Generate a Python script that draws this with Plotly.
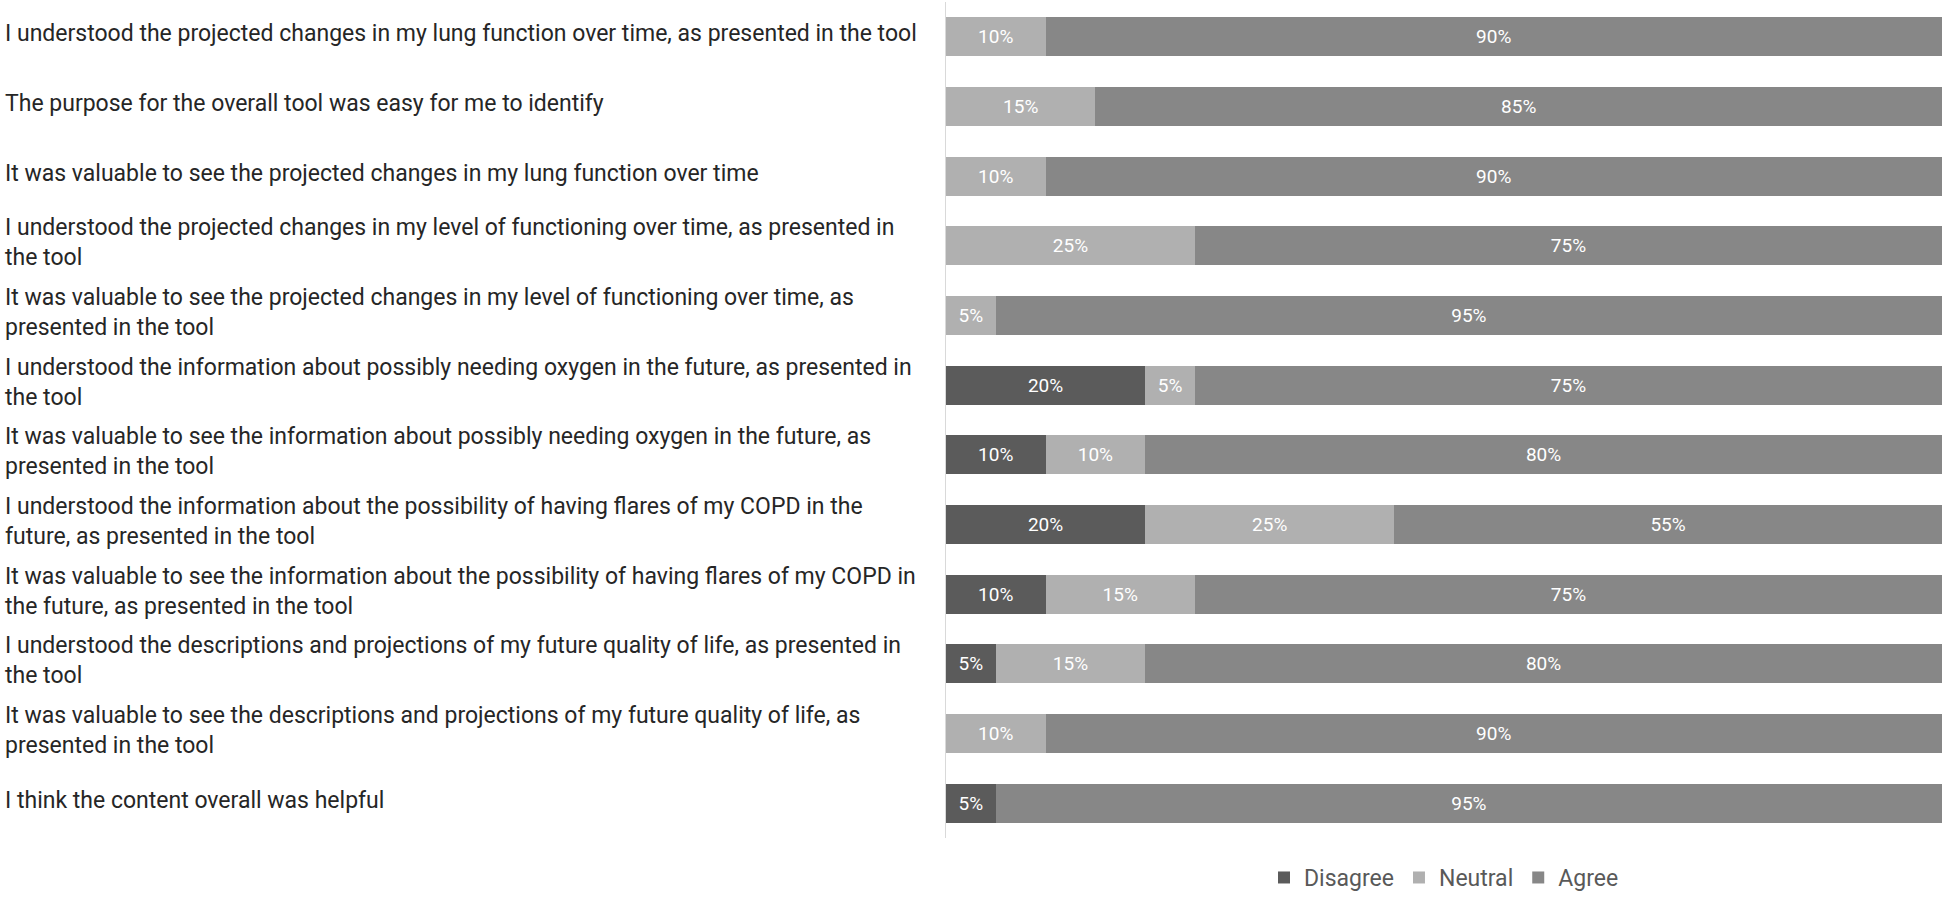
import plotly.graph_objects as go

# Survey statements (top to bottom), <br> where the original label wraps
statements = [
    "I understood the projected changes in my lung function over time, as presented in the tool",
    "The purpose for the overall tool was easy for me to identify",
    "It was valuable to see the projected changes in my lung function over time",
    "I understood the projected changes in my level of functioning over time, as presented in<br>the tool",
    "It was valuable to see the projected changes in my level of functioning over time, as<br>presented in the tool",
    "I understood the information about possibly needing oxygen in the future, as presented in<br>the tool",
    "It was valuable to see the information about possibly needing oxygen in the future, as<br>presented in the tool",
    "I understood the information about the possibility of having flares of my COPD in the<br>future, as presented in the tool",
    "It was valuable to see the information about the possibility of having flares of my COPD in<br>the future, as presented in the tool",
    "I understood the descriptions and projections of my future quality of life, as presented in<br>the tool",
    "It was valuable to see the descriptions and projections of my future quality of life, as<br>presented in the tool",
    "I think the content overall was helpful",
]

disagree = [0, 0, 0, 0, 0, 20, 10, 20, 10, 5, 0, 5]
neutral = [10, 15, 10, 25, 5, 5, 10, 25, 15, 15, 10, 0]
agree = [90, 85, 90, 75, 95, 75, 80, 55, 75, 80, 90, 95]

series = [
    ("Disagree", disagree, "#5b5b5b"),
    ("Neutral", neutral, "#b0b0b0"),
    ("Agree", agree, "#878787"),
]

rows = list(range(len(statements)))

fig = go.Figure()
for name, vals, color in series:
    fig.add_trace(go.Bar(
        y=rows,
        x=vals,
        name=name,
        orientation="h",
        marker=dict(color=color, line=dict(width=0)),
        text=[f"{v}%" if v > 0 else "" for v in vals],
        textposition="inside",
        insidetextanchor="middle",
        textfont=dict(color="white", size=19),
    ))

# left-aligned category labels
left_margin = 946
plot_w = 1942 - left_margin
for i, s in enumerate(statements):
    fig.add_annotation(
        x=(3 - left_margin) / plot_w, xref="paper",
        y=i, yref="y",
        text=s, showarrow=False,
        xanchor="left", yanchor="middle", align="left",
        yshift=3,
        font=dict(size=23, color="#262626"),
    )

fig.update_layout(
    barmode="stack",
    width=1942, height=900,
    margin=dict(l=left_margin, r=0, t=2, b=62),
    bargap=0.44,
    plot_bgcolor="white",
    paper_bgcolor="white",
    font=dict(family="Roboto, Liberation Sans, sans-serif", color="#595959"),
    uniformtext=dict(minsize=19, mode="show"),
    legend=dict(
        orientation="h", x=0.5, xanchor="center", y=-0.073, yanchor="bottom",
        font=dict(size=23, color="#595959"), traceorder="normal",
        itemclick=False,
    ),
    showlegend=True,
)
fig.update_xaxes(range=[0, 100], showgrid=False, showticklabels=False,
                 zeroline=False, showline=False)
fig.update_yaxes(autorange="reversed", showgrid=False, showticklabels=False,
                 zeroline=False, showline=True, linecolor="#d9d9d9",
                 linewidth=1)

# drop the default page margin so the 1942x900 figure fills the window
fig.write_html(
    "out.html",
    config={"displayModeBar": False},
    post_script="document.body.style.margin='0';document.body.style.overflow='hidden';",
)
